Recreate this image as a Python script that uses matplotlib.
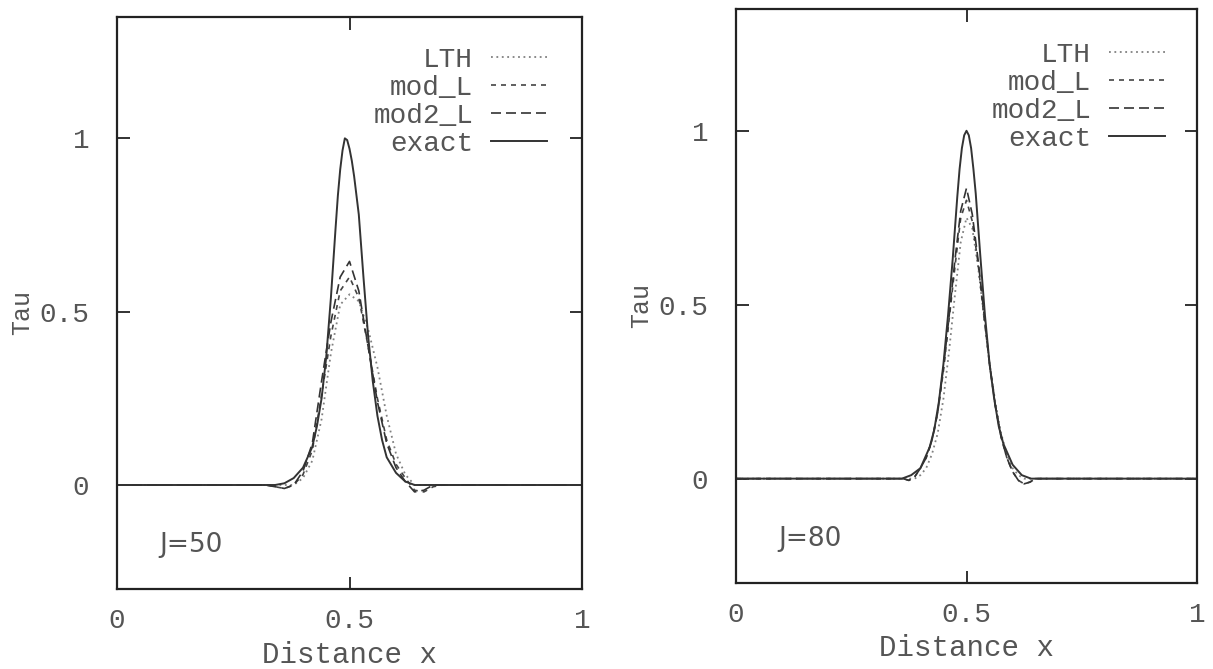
import matplotlib
matplotlib.use("Agg")
import matplotlib.pyplot as plt

# ---- data ----
# J=50 panel
exact50_x = [0.00, 0.34, 0.36, 0.38, 0.40, 0.42, 0.43, 0.44, 0.45, 0.46, 0.47, 0.475, 0.48,
             0.485, 0.49, 0.495, 0.50, 0.505, 0.51, 0.52, 0.53, 0.54, 0.55, 0.56, 0.57,
             0.58, 0.60, 0.62, 0.64, 1.00]
exact50_y = [0.0, 0.0, 0.005, 0.02, 0.05, 0.11, 0.17, 0.25, 0.37, 0.54, 0.74, 0.835, 0.91,
             0.965, 1.00, 0.995, 0.97, 0.935, 0.89, 0.78, 0.60, 0.43, 0.30, 0.20, 0.13,
             0.08, 0.035, 0.01, 0.0, 0.0]
grid50_x = [0.00, 0.32, 0.34, 0.36, 0.38, 0.40, 0.42, 0.44, 0.46, 0.48, 0.50, 0.52,
            0.54, 0.56, 0.58, 0.60, 0.62, 0.64, 0.66, 0.68, 0.70, 1.00]
lth50 = [0.0, 0.0, 0.0, 0.0, 0.0, 0.02, 0.07, 0.19, 0.38, 0.52, 0.55, 0.53,
         0.45, 0.34, 0.20, 0.09, 0.03, 0.0, 0.0, 0.0, 0.0, 0.0]
mod50 = [0.0, 0.0, -0.005, -0.01, 0.0, 0.03, 0.10, 0.26, 0.43, 0.56, 0.60, 0.54,
         0.40, 0.25, 0.13, 0.06, 0.02, -0.015, -0.02, -0.005, 0.0, 0.0]
mod2_50 = [0.0, 0.0, -0.005, -0.01, 0.0, 0.04, 0.12, 0.30, 0.47, 0.60, 0.645, 0.56,
           0.40, 0.24, 0.12, 0.05, 0.01, -0.02, -0.015, 0.0, 0.0, 0.0]

# J=80 panel
exact80_x = [0.00, 0.36, 0.38, 0.40, 0.42, 0.43, 0.44, 0.45, 0.46, 0.47, 0.48, 0.485, 0.49,
             0.495, 0.50, 0.505, 0.51, 0.515, 0.52, 0.53, 0.54, 0.55, 0.56, 0.57, 0.58,
             0.60, 0.62, 0.64, 1.00]
exact80_y = [0.0, 0.0, 0.01, 0.03, 0.09, 0.14, 0.22, 0.33, 0.47, 0.63, 0.81, 0.89, 0.95,
             0.987, 1.00, 0.987, 0.95, 0.89, 0.82, 0.64, 0.47, 0.33, 0.23, 0.15, 0.10,
             0.04, 0.01, 0.0, 0.0]
grid80_x = [0.00, 0.35, 0.3625, 0.375, 0.3875, 0.4, 0.4125, 0.425, 0.4375, 0.45, 0.4625,
            0.475, 0.4875, 0.5, 0.5125, 0.525, 0.5375, 0.55, 0.5625, 0.575, 0.5875,
            0.6, 0.6125, 0.625, 0.6375, 0.65, 1.00]
lth80 = [0.0, 0.0, 0.0, 0.0, 0.0, 0.01, 0.03, 0.07, 0.13, 0.23, 0.37,
         0.53, 0.68, 0.75, 0.72, 0.61, 0.47, 0.33, 0.22, 0.13, 0.07,
         0.03, 0.01, 0.0, 0.0, 0.0, 0.0]
mod80 = [0.0, 0.0, 0.0, -0.005, 0.005, 0.03, 0.06, 0.11, 0.19, 0.31, 0.46,
         0.61, 0.75, 0.80, 0.74, 0.62, 0.47, 0.33, 0.21, 0.12, 0.06,
         0.02, -0.005, -0.015, -0.01, 0.0, 0.0]
mod2_80 = [0.0, 0.0, 0.0, -0.005, 0.005, 0.03, 0.06, 0.11, 0.19, 0.32, 0.47,
           0.63, 0.77, 0.835, 0.76, 0.63, 0.48, 0.33, 0.21, 0.12, 0.06,
           0.02, -0.005, -0.015, -0.01, 0.0, 0.0]

ticks = [0, 0.5, 1]
tick_labels = ["0", "0.5", "1"]
series_names = ["LTH", "mod_L", "mod2_L", "exact"]

MONO = "Liberation Mono"
TXT = "#555555"

fig = plt.figure(figsize=(12.13, 6.69), dpi=100)
W, H = 1213, 669


def px_axes(l, t, r, b):
    return fig.add_axes([l / W, 1 - b / H, (r - l) / W, (b - t) / H])


def draw_panel(ax, ex_x, ex_y, gx, lth, mod, mod2, jtext, xlab_y, leg_anchor):
    ax.plot(gx, lth, color="#808080", lw=1.3, ls=(0, (1, 2)), label=series_names[0])
    ax.plot(gx, mod, color="#444444", lw=1.2, ls=(0, (3, 3)), label=series_names[1])
    ax.plot(gx, mod2, color="#333333", lw=1.2, ls=(0, (6, 3)), label=series_names[2])
    ax.plot(ex_x, ex_y, color="#333333", lw=1.4, ls="-", label=series_names[3])
    ax.set_xlim(0, 1)
    ax.set_ylim(-0.3, 1.35)
    ax.set_xticks(ticks)
    ax.set_xticklabels(tick_labels)
    ax.set_yticks(ticks)
    ax.set_yticklabels(tick_labels)
    ax.tick_params(direction="in", length=9, width=1.3, color="#222222",
                   top=True, right=True, labelsize=20, labelcolor=TXT)
    ax.tick_params(axis="y", pad=20)
    ax.tick_params(axis="x", pad=14)
    for lab in ax.get_xticklabels() + ax.get_yticklabels():
        lab.set_family(MONO)
    for sp in ax.spines.values():
        sp.set_linewidth(1.6)
        sp.set_color("#222222")
    ax.text(0.5, xlab_y, "Distance x", transform=ax.transAxes, ha="center", va="center",
            family=MONO, fontsize=21, color=TXT)
    ax.text(-0.205, 0.483, "Tau", transform=ax.transAxes, ha="center", va="center",
            rotation=90, family=MONO, fontsize=18, color=TXT)
    ax.text(0.092, 0.077, jtext, transform=ax.transAxes, ha="left", va="center",
            family="DejaVu Sans", fontsize=19, color=TXT)
    ax.legend(loc="upper right", bbox_to_anchor=leg_anchor, frameon=False,
              markerfirst=False, handlelength=2.0, handletextpad=0.65,
              labelspacing=0.07, prop={"family": MONO, "size": 20},
              labelcolor=TXT, borderaxespad=0)


ax1 = px_axes(117, 17, 582, 589)
draw_panel(ax1, exact50_x, exact50_y, grid50_x, lth50, mod50, mod2_50, "J=50", -0.115,
           (0.948, 0.967))

ax2 = px_axes(736, 9, 1197, 583)
draw_panel(ax2, exact80_x, exact80_y, grid80_x, lth80, mod80, mod2_80, "J=80", -0.113,
           (0.954, 0.962))

fig.savefig("out.png", dpi=100, facecolor="white")
